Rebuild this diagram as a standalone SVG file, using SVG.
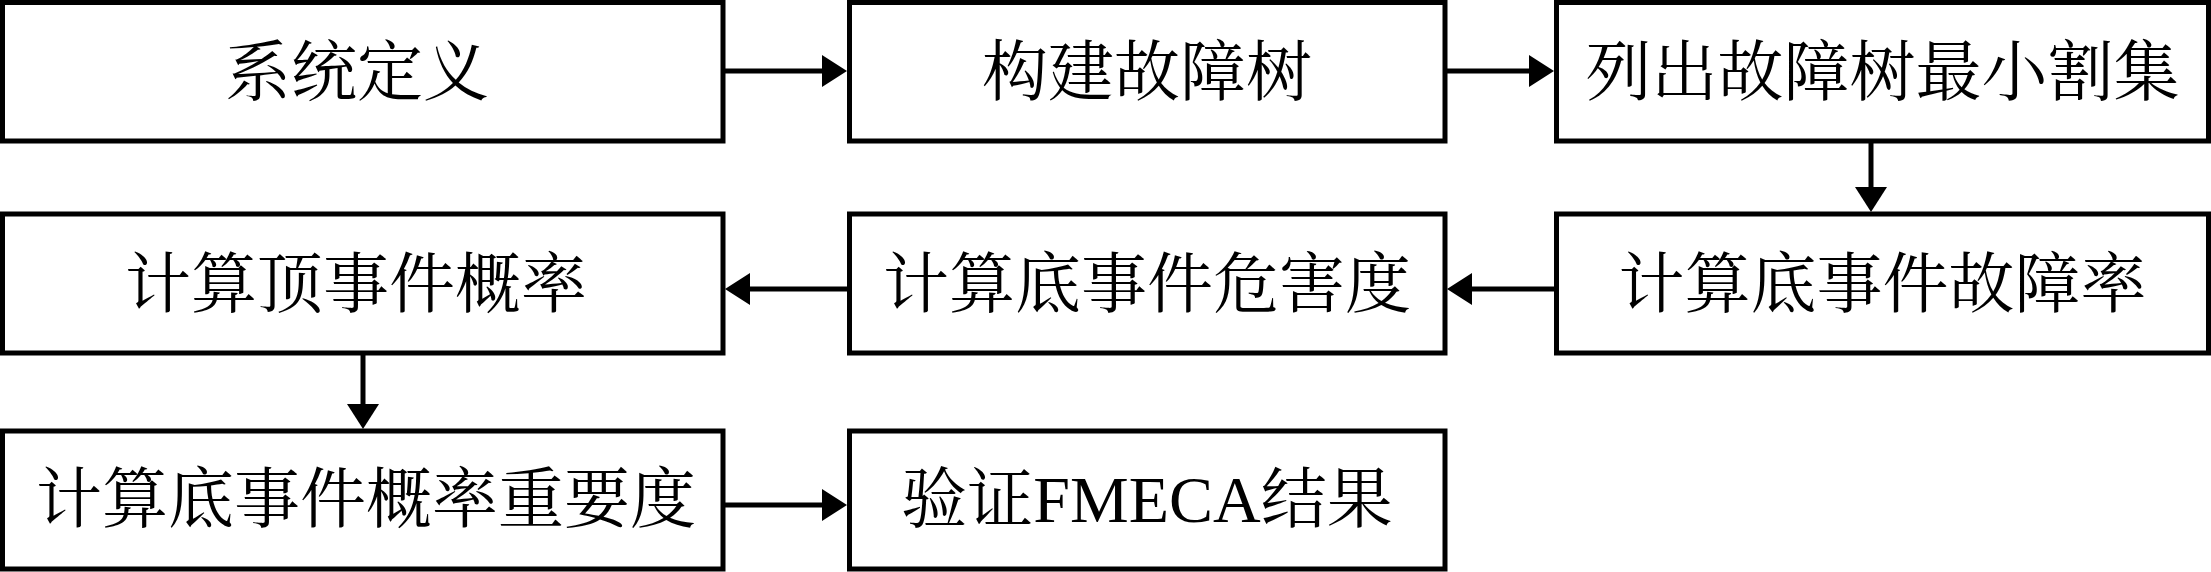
<svg xmlns="http://www.w3.org/2000/svg" width="2211" height="572" viewBox="0 0 2211 572">
<style>
.box{fill:#fff;stroke:#000;stroke-width:5}
.lbl{font-family:"Liberation Serif","Noto Serif CJK SC","Noto Sans CJK SC",serif;font-size:66px;fill:#000;text-anchor:middle}
.con{stroke:#000;stroke-width:5;fill:none;marker-end:url(#ah)}
</style>
<defs>
<marker id="ah" markerUnits="userSpaceOnUse" markerWidth="25" markerHeight="32" refX="12" refY="16" orient="auto" viewBox="0 0 25 32">
<path d="M0,0 L25,16 L0,32 Z" fill="#000"/>
</marker>
</defs>
<rect width="2211" height="572" fill="#fff"/>
<g id="n1"><rect class="box" x="2.5" y="2.5" width="720.5" height="138.5"/><text class="lbl" x="357" y="95">系统定义</text></g>
<g id="n2"><rect class="box" x="849.5" y="2.5" width="595.5" height="138.5"/><text class="lbl" x="1147" y="95">构建故障树</text></g>
<g id="n3"><rect class="box" x="1556.5" y="2.5" width="652" height="138.5"/><text class="lbl" x="1882.5" y="95">列出故障树最小割集</text></g>
<g id="n4"><rect class="box" x="1556.5" y="214" width="652" height="139"/><text class="lbl" x="1882.5" y="307">计算底事件故障率</text></g>
<g id="n5"><rect class="box" x="849.5" y="214" width="595.5" height="139"/><text class="lbl" x="1147" y="307">计算底事件危害度</text></g>
<g id="n6"><rect class="box" x="2.5" y="214" width="720.5" height="139"/><text class="lbl" x="356" y="307">计算顶事件概率</text></g>
<g id="n7"><rect class="box" x="2.5" y="431" width="720.5" height="138"/><text class="lbl" x="366" y="522">计算底事件概率重要度</text></g>
<g id="n8"><rect class="box" x="849.5" y="431" width="595.5" height="138"/><text class="lbl" x="1147" y="522">验证FMECA结果</text></g>
<g id="connectors">
<path class="con" d="M725,71 H834"/>
<path class="con" d="M1447,71 H1541"/>
<path class="con" d="M1871,143 V199"/>
<path class="con" d="M1555,289 H1460"/>
<path class="con" d="M848,289 H738"/>
<path class="con" d="M363,355 V416"/>
<path class="con" d="M725,505 H834"/>
</g>
</svg>
